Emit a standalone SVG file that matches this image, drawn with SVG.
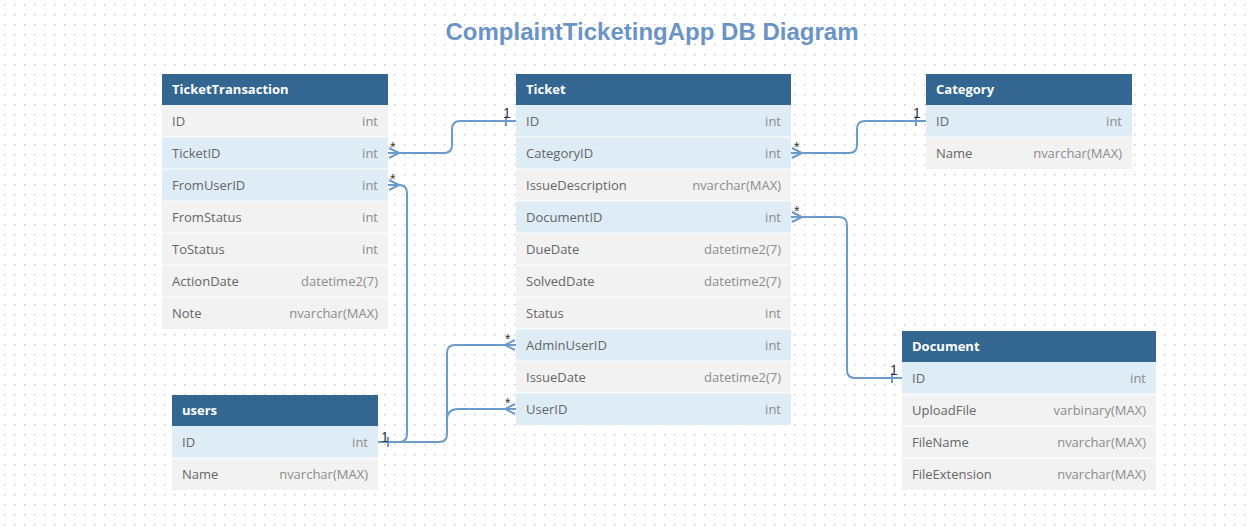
<svg xmlns="http://www.w3.org/2000/svg" width="1253" height="527" viewBox="0 0 1253 527">
<defs>
<pattern id="dots" x="0" y="0" width="10" height="10" patternUnits="userSpaceOnUse">
<rect x="4" y="4" width="1.4" height="1.4" fill="#c8c8c8"/>
</pattern>
</defs>
<style>
.hdr{fill:#336791}
.hdrt{font-family:"Open Sans","Liberation Sans",sans-serif;font-size:13px;font-weight:bold;fill:#ffffff}
.r{fill:#f2f2f2}
.k{fill:#deecf5}
.sep{stroke:#ffffff;stroke-width:1}
.n{font-family:"Open Sans","Liberation Sans",sans-serif;font-size:13px;fill:#666666}
.t{font-family:"Open Sans","Liberation Sans",sans-serif;font-size:13px;fill:#8c8c8c;text-anchor:end}
.c{fill:none;stroke:#6a9bcb;stroke-width:2}
.lbl{font-family:"Liberation Sans",sans-serif;font-size:14px;fill:#333333}
.star{font-family:"Liberation Sans",sans-serif;font-size:14px;fill:#333333}
</style>
<rect width="1253" height="527" fill="#ffffff"/>
<rect width="1253" height="527" fill="url(#dots)"/>
<text x="652" y="40" text-anchor="middle" font-family="Liberation Sans,Arial,sans-serif" font-size="24" font-weight="bold" fill="#6b94c6">ComplaintTicketingApp DB Diagram</text>

<g id="connectors">
<path class="c" d="M388,153 H444 Q452,153 452,145 V129 Q452,121 460,121 H516"/>
<path class="c" d="M389,148 L399,153 L389,158"/>
<path class="c" d="M506,116 V126"/>
<text class="star" x="390" y="152">*</text>
<text class="lbl" x="503" y="118">1</text>

<path class="c" d="M388,185 H399 Q407,185 407,193 V434 Q407,442 399,442 H378"/>
<path class="c" d="M389,180 L399,185 L389,190"/>
<text class="star" x="390" y="184">*</text>

<path class="c" d="M378,442 H439 Q447,442 447,434 V353 Q447,345 455,345 H516"/>
<path class="c" d="M515,340 L505,345 L515,350"/>
<text class="star" x="505" y="344">*</text>
<path class="c" d="M447,420 Q447,409 458,409 H516"/>
<path class="c" d="M515,404 L505,409 L515,414"/>
<text class="star" x="505" y="408">*</text>
<path class="c" d="M388,437 V447"/>
<text class="lbl" x="381" y="442">1</text>

<path class="c" d="M791,153 H849 Q857,153 857,145 V129 Q857,121 865,121 H926"/>
<path class="c" d="M792,148 L802,153 L792,158"/>
<path class="c" d="M916,116 V126"/>
<text class="star" x="794" y="152">*</text>
<text class="lbl" x="913" y="118">1</text>

<path class="c" d="M791,217 H839 Q847,217 847,225 V370 Q847,378 855,378 H902"/>
<path class="c" d="M792,212 L802,217 L792,222"/>
<path class="c" d="M892,373 V383"/>
<text class="star" x="794" y="216">*</text>
<text class="lbl" x="890" y="375">1</text>
</g>

<g id="TicketTransaction">
<rect class="hdr" x="162" y="74" width="226" height="31"/>
<text class="hdrt" x="172" y="94">TicketTransaction</text>
<rect class="r" x="162" y="105" width="226" height="32"/>
<rect class="k" x="162" y="137" width="226" height="32"/>
<rect class="k" x="162" y="169" width="226" height="32"/>
<rect class="r" x="162" y="201" width="226" height="32"/>
<rect class="r" x="162" y="233" width="226" height="32"/>
<rect class="r" x="162" y="265" width="226" height="32"/>
<rect class="r" x="162" y="297" width="226" height="32"/>
<line class="sep" x1="162" y1="137" x2="388" y2="137"/>
<line class="sep" x1="162" y1="169" x2="388" y2="169"/>
<line class="sep" x1="162" y1="201" x2="388" y2="201"/>
<line class="sep" x1="162" y1="233" x2="388" y2="233"/>
<line class="sep" x1="162" y1="265" x2="388" y2="265"/>
<line class="sep" x1="162" y1="297" x2="388" y2="297"/>
<text class="n" x="172" y="126">ID</text><text class="t" x="378" y="126">int</text>
<text class="n" x="172" y="158">TicketID</text><text class="t" x="378" y="158">int</text>
<text class="n" x="172" y="190">FromUserID</text><text class="t" x="378" y="190">int</text>
<text class="n" x="172" y="222">FromStatus</text><text class="t" x="378" y="222">int</text>
<text class="n" x="172" y="254">ToStatus</text><text class="t" x="378" y="254">int</text>
<text class="n" x="172" y="286">ActionDate</text><text class="t" x="378" y="286">datetime2(7)</text>
<text class="n" x="172" y="318">Note</text><text class="t" x="378" y="318">nvarchar(MAX)</text>
</g>

<g id="Ticket">
<rect class="hdr" x="516" y="74" width="275" height="31"/>
<text class="hdrt" x="526" y="94">Ticket</text>
<rect class="k" x="516" y="105" width="275" height="32"/>
<rect class="k" x="516" y="137" width="275" height="32"/>
<rect class="r" x="516" y="169" width="275" height="32"/>
<rect class="k" x="516" y="201" width="275" height="32"/>
<rect class="r" x="516" y="233" width="275" height="32"/>
<rect class="r" x="516" y="265" width="275" height="32"/>
<rect class="r" x="516" y="297" width="275" height="32"/>
<rect class="k" x="516" y="329" width="275" height="32"/>
<rect class="r" x="516" y="361" width="275" height="32"/>
<rect class="k" x="516" y="393" width="275" height="32"/>
<line class="sep" x1="516" y1="137" x2="791" y2="137"/>
<line class="sep" x1="516" y1="169" x2="791" y2="169"/>
<line class="sep" x1="516" y1="201" x2="791" y2="201"/>
<line class="sep" x1="516" y1="233" x2="791" y2="233"/>
<line class="sep" x1="516" y1="265" x2="791" y2="265"/>
<line class="sep" x1="516" y1="297" x2="791" y2="297"/>
<line class="sep" x1="516" y1="329" x2="791" y2="329"/>
<line class="sep" x1="516" y1="361" x2="791" y2="361"/>
<line class="sep" x1="516" y1="393" x2="791" y2="393"/>
<text class="n" x="526" y="126">ID</text><text class="t" x="781" y="126">int</text>
<text class="n" x="526" y="158">CategoryID</text><text class="t" x="781" y="158">int</text>
<text class="n" x="526" y="190">IssueDescription</text><text class="t" x="781" y="190">nvarchar(MAX)</text>
<text class="n" x="526" y="222">DocumentID</text><text class="t" x="781" y="222">int</text>
<text class="n" x="526" y="254">DueDate</text><text class="t" x="781" y="254">datetime2(7)</text>
<text class="n" x="526" y="286">SolvedDate</text><text class="t" x="781" y="286">datetime2(7)</text>
<text class="n" x="526" y="318">Status</text><text class="t" x="781" y="318">int</text>
<text class="n" x="526" y="350">AdminUserID</text><text class="t" x="781" y="350">int</text>
<text class="n" x="526" y="382">IssueDate</text><text class="t" x="781" y="382">datetime2(7)</text>
<text class="n" x="526" y="414">UserID</text><text class="t" x="781" y="414">int</text>
</g>

<g id="Category">
<rect class="hdr" x="926" y="74" width="206" height="31"/>
<text class="hdrt" x="936" y="94">Category</text>
<rect class="k" x="926" y="105" width="206" height="32"/>
<rect class="r" x="926" y="137" width="206" height="32"/>
<line class="sep" x1="926" y1="137" x2="1132" y2="137"/>
<text class="n" x="936" y="126">ID</text><text class="t" x="1122" y="126">int</text>
<text class="n" x="936" y="158">Name</text><text class="t" x="1122" y="158">nvarchar(MAX)</text>
</g>

<g id="Document">
<rect class="hdr" x="902" y="331" width="254" height="31"/>
<text class="hdrt" x="912" y="351">Document</text>
<rect class="k" x="902" y="362" width="254" height="32"/>
<rect class="r" x="902" y="394" width="254" height="32"/>
<rect class="r" x="902" y="426" width="254" height="32"/>
<rect class="r" x="902" y="458" width="254" height="32"/>
<line class="sep" x1="902" y1="394" x2="1156" y2="394"/>
<line class="sep" x1="902" y1="426" x2="1156" y2="426"/>
<line class="sep" x1="902" y1="458" x2="1156" y2="458"/>
<text class="n" x="912" y="383">ID</text><text class="t" x="1146" y="383">int</text>
<text class="n" x="912" y="415">UploadFile</text><text class="t" x="1146" y="415">varbinary(MAX)</text>
<text class="n" x="912" y="447">FileName</text><text class="t" x="1146" y="447">nvarchar(MAX)</text>
<text class="n" x="912" y="479">FileExtension</text><text class="t" x="1146" y="479">nvarchar(MAX)</text>
</g>

<g id="users">
<rect class="hdr" x="172" y="395" width="206" height="31"/>
<text class="hdrt" x="182" y="415">users</text>
<rect class="k" x="172" y="426" width="206" height="32"/>
<rect class="r" x="172" y="458" width="206" height="32"/>
<line class="sep" x1="172" y1="458" x2="378" y2="458"/>
<text class="n" x="182" y="447">ID</text><text class="t" x="368" y="447">int</text>
<text class="n" x="182" y="479">Name</text><text class="t" x="368" y="479">nvarchar(MAX)</text>
</g>
</svg>
